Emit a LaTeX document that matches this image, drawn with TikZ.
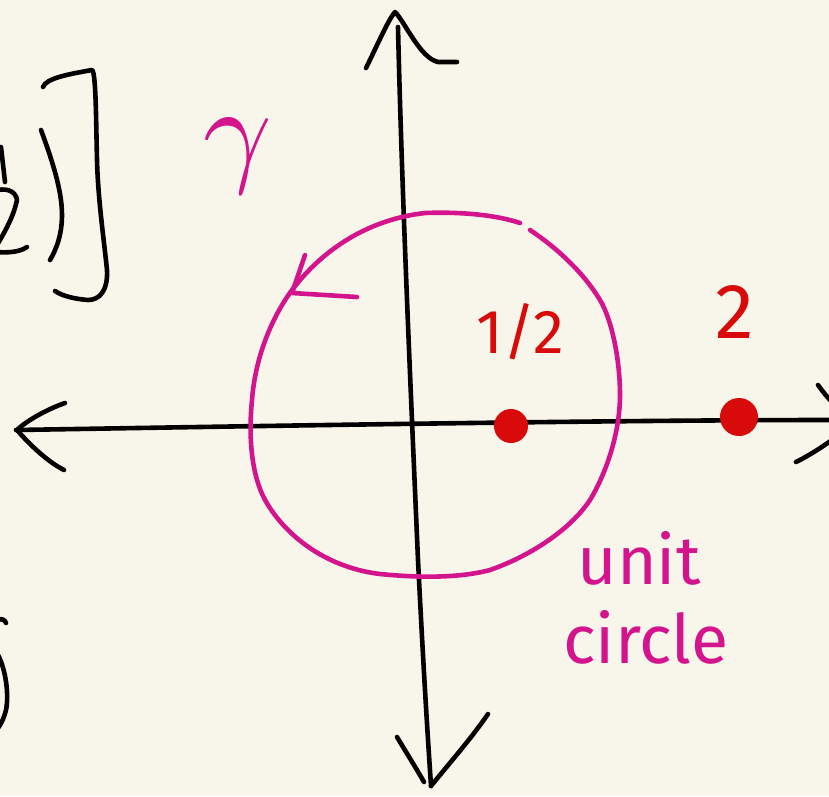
\documentclass[tikz,border=0pt]{standalone}
\usepackage{fontspec}
\newfontfamily\handfont{Fira Sans}
\definecolor{paper}{HTML}{F8F6EA}
\definecolor{inkred}{HTML}{D80A0A}
\definecolor{inkmag}{HTML}{D4148C}
\tikzset{
  ink/.style={line width=4.6pt, line cap=round, line join=round},
  blackink/.style={ink, draw=black},
  magink/.style={ink, draw=inkmag},
  redtext/.style={text=inkred, inner sep=0pt},
  magtext/.style={text=inkmag, inner sep=0pt},
  reddot/.style={circle, fill=inkred, draw=inkred, line width=1pt, minimum size=33pt, inner sep=0pt}
}
\begin{document}
\begin{tikzpicture}[x=1pt,y=-1pt]
\fill[paper] (0,0) rectangle (829,796);
\useasboundingbox (0,0) rectangle (829,796);
\begin{scope}
\clip (0,0) rectangle (829,796);
% left fragments
\draw[blackink] (43,87) .. controls (46,78) and (70,74) .. (92,70) .. controls (96,72) and (96,120) .. (97,160)
  .. controls (98,200) and (104,240) .. (107,270) .. controls (108,290) and (100,300) .. (88,300) .. controls (75,299) and (62,296) .. (55,291);
\draw[blackink] (41,130) .. controls (52,160) and (62,190) .. (62,215) .. controls (62,235) and (56,250) .. (50,260);
\draw[blackink] (-2,190) .. controls (8,188) and (16,192) .. (17,200) .. controls (14,215) and (6,230) .. (-3,245);
\draw[blackink] (-3,252) .. controls (8,253) and (20,252) .. (27,247);
\draw[blackink] (1,147) -- (5,182);
\draw[blackink] (-2,620) .. controls (2,618) and (5,620) .. (6,623);
\draw[blackink] (-2,655) .. controls (6,670) and (9,695) .. (6,710) .. controls (4,718) and (1,724) .. (-2,728);
\end{scope}
% axes
\coordinate (vtop) at (398,27);
\coordinate (vbot) at (431,786);
\draw[blackink] (vtop) .. controls (402,200) and (412,420) .. (418,560) .. controls (424,680) and (428,740) .. (vbot);
\draw[blackink] (366,68) .. controls (376,48) and (388,20) .. (395,12) .. controls (405,22) and (420,58) .. (438,62) -- (457,62);
\draw[blackink] (397,737) .. controls (406,752) and (416,768) .. (424,782);
\draw[blackink] (vbot) .. controls (452,760) and (470,740) .. (488,714);
\coordinate (hleft) at (16,430);
\coordinate (hright) at (829,420);
\draw[blackink] (hleft) .. controls (200,427) and (600,420) .. (hright);
\draw[blackink] (65,403) .. controls (45,410) and (25,422) .. (17,430) .. controls (30,445) and (48,462) .. (64,470);
\draw[blackink] (818,385) .. controls (823,392) and (828,398) .. (832,402);
\draw[blackink] (796,462) .. controls (810,455) and (822,447) .. (832,440);
% unit circle
\draw[magink] (520,223) .. controls (490,213) and (450,212) .. (425,213)
  .. controls (380,218) and (330,240) .. (292,290)
  .. controls (270,320) and (255,360) .. (252,400)
  .. controls (248,440) and (252,480) .. (268,505)
  .. controls (290,540) and (330,568) .. (380,574)
  .. controls (420,578) and (460,578) .. (490,570)
  .. controls (530,556) and (570,530) .. (590,500)
  .. controls (608,470) and (620,430) .. (620,395)
  .. controls (620,360) and (612,320) .. (600,300)
  .. controls (585,275) and (560,250) .. (530,230);
\coordinate (tip) at (292,293);
\draw[magink] (305,255) -- (tip) -- (357,297);
% points
\node[reddot] (half) at (511,426) {};
\node[reddot, minimum size=37pt] (two) at (739,417) {};
% labels
\node[magtext, scale=12] (gamma) at (238,156) {$\gamma$};
\node[redtext, font=\handfont\fontsize{62}{62}\selectfont] (lhalf) at (520,332) {1/2};
\node[redtext, font=\handfont\fontsize{78}{78}\selectfont] (ltwo) at (735,312) {2};
\node[magtext, font=\handfont\fontsize{68}{68}\selectfont] (lunit) at (639,558) {unit};
\node[magtext, font=\handfont\fontsize{68}{68}\selectfont] (lcircle) at (646,637) {circle};
\end{tikzpicture}
\end{document}
